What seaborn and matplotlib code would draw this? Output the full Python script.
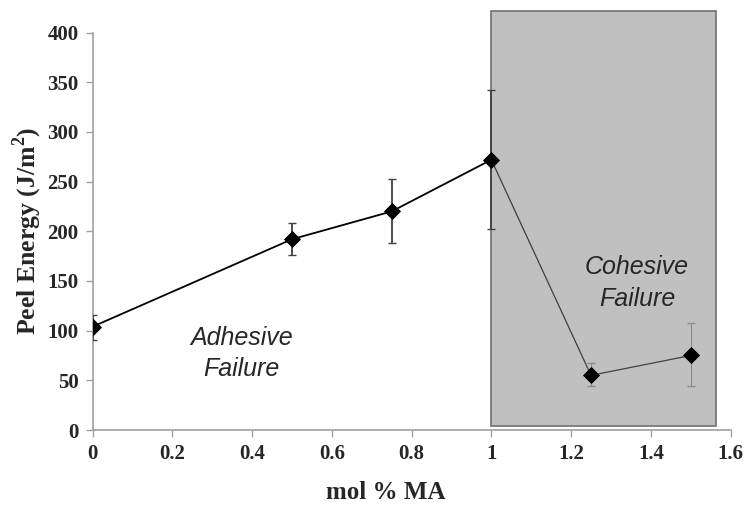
import numpy as np
import pandas as pd
import matplotlib
matplotlib.use("Agg")
import matplotlib.pyplot as plt
import seaborn as sns
from matplotlib.patches import Rectangle

# data
mol_ma = [0, 0.5, 0.75, 1.0, 1.25, 1.5]
peel_energy = [104, 192, 220, 272, 55, 75]
err_low = [91, 176, 188, 202, 44, 44]
err_high = [116, 208, 253, 342, 67, 108]

cohesive_start = 1.0
cohesive_end = 1.563
cohesive_top = 422

x_ticks = [0, 0.2, 0.4, 0.6, 0.8, 1.0, 1.2, 1.4, 1.6]
x_ticklabels = ["0", "0.2", "0.4", "0.6", "0.8", "1", "1.2", "1.4", "1.6"]
y_ticks = [0, 50, 100, 150, 200, 250, 300, 350, 400]

df = pd.DataFrame({"mol": mol_ma, "peel": peel_energy,
                   "lo": err_low, "hi": err_high})
adh = df[df["mol"] <= 1.0]
coh = df[df["mol"] >= 1.0]

sns.set_style("white")
plt.rcParams["mathtext.fontset"] = "custom"
plt.rcParams["mathtext.rm"] = "Liberation Serif"
plt.rcParams["mathtext.bf"] = "Liberation Serif:bold"

fig = plt.figure(figsize=(7.47, 5.05), dpi=100)
ax = fig.add_axes([0.124, 0.1485, 0.854, 0.787])

# shaded cohesive-failure region
ax.add_patch(Rectangle((cohesive_start, 4), cohesive_end - cohesive_start,
                       cohesive_top - 4, facecolor="#c0c0c0",
                       edgecolor="#707070", linewidth=1.2, clip_on=False,
                       zorder=1))

# error bars
for _, r in df.iterrows():
    light = r["mol"] > 1.0
    ax.errorbar(r["mol"], r["peel"],
                yerr=[[r["peel"] - r["lo"]], [r["hi"] - r["peel"]]],
                fmt="none", ecolor="#8a8a8a" if light else "#404040",
                elinewidth=0.8 if light else 1.3, capsize=3,
                capthick=1.0, zorder=3)

sns.lineplot(data=adh, x="mol", y="peel", color="black", linewidth=1.3,
             ax=ax, zorder=4)
sns.lineplot(data=coh, x="mol", y="peel", color="#404040", linewidth=0.9,
             ax=ax, zorder=4)
sns.scatterplot(data=df, x="mol", y="peel", marker="D", s=65,
                color="black", edgecolor="black", ax=ax, zorder=5)

ax.text(0.373, 77, "Adhesive\nFailure", fontsize=18, style="italic",
        family="Liberation Sans", ha="center", va="center",
        linespacing=1.4)
ax.text(1.365, 148, "Cohesive\nFailure", fontsize=18, style="italic",
        family="Liberation Sans", ha="center", va="center",
        linespacing=1.45)

ax.set_xlim(0, 1.6)
ax.set_ylim(0, 400)
ax.set_xticks(x_ticks)
ax.set_xticklabels(x_ticklabels)
ax.set_yticks(y_ticks)

for lab in ax.get_xticklabels() + ax.get_yticklabels():
    lab.set_fontfamily("Liberation Serif")
    lab.set_fontweight("bold")
    lab.set_fontsize(15)

ax.tick_params(axis="both", direction="out", length=5, width=1,
               color="#a0a0a0", pad=5, bottom=True, left=True)

sns.despine(ax=ax)
for s in ["left", "bottom"]:
    ax.spines[s].set_color("#a0a0a0")
    ax.spines[s].set_linewidth(1.2)

ax.set_xlabel("mol % MA", fontsize=18, fontweight="bold",
              family="Liberation Serif")
ax.xaxis.label.set_va("center")
ax.xaxis.set_label_coords(0.46, -0.158)
ax.set_ylabel("Peel Energy (J/m$^\\mathbf{2}$)", fontsize=18.5,
              fontweight="bold", family="Liberation Serif")
ax.yaxis.set_label_coords(-0.077, 0.5)

fig.savefig("out.png", dpi=100)
